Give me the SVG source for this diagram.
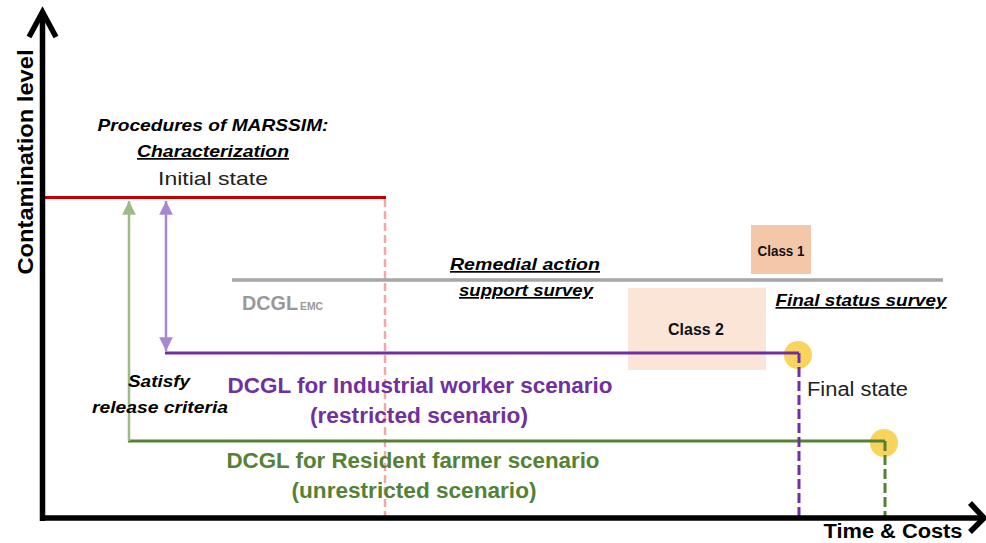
<svg xmlns="http://www.w3.org/2000/svg" width="986" height="543" viewBox="0 0 986 543">
<style>
text{font-family:"Liberation Sans",Arial,sans-serif}
.bi{font-weight:bold;font-style:italic;fill:#000}
.u{text-decoration:underline}
.b{font-weight:bold}
.axis{stroke:#000;stroke-width:5.5;fill:none}
.dash{stroke-width:3;stroke-dasharray:10 4;fill:none}
.dot{fill:#F9D45C}
</style>
<defs>
<marker id="gh" viewBox="0 0 10 10" refX="10" refY="5" markerWidth="5.5" markerHeight="5.5" orient="auto-start-reverse" markerUnits="strokeWidth"><path d="M0,0 L10,5 L0,10 Z" fill="#9DBB86"/></marker>
<marker id="ph" viewBox="0 0 10 10" refX="10" refY="5" markerWidth="5.5" markerHeight="5.5" orient="auto-start-reverse" markerUnits="strokeWidth"><path d="M0,0 L10,5 L0,10 Z" fill="#A886D0"/></marker>
</defs>
<rect width="986" height="543" fill="#fff"/>

<g id="boxes">
<rect id="class2-box" x="628" y="288" width="138" height="82" fill="#FBE5D6"/>
<rect id="class1-box" x="751" y="225" width="60" height="49" fill="#F4C7A8"/>
</g>

<g id="final-state-purple"><circle class="dot" cx="798" cy="355" r="14"/></g>
<g id="final-state-green"><circle class="dot" cx="884" cy="443" r="14"/></g>

<g id="connectors">
<line x1="385" y1="199" x2="385" y2="516" stroke="#F4A7A7" stroke-width="2.5" stroke-dasharray="8 4"/>
<line x1="42" y1="197.5" x2="386" y2="197.5" stroke="#C00000" stroke-width="3"/>
<line x1="232" y1="280" x2="943" y2="280" stroke="#A6A6A6" stroke-width="3.5"/>
<line x1="165" y1="353" x2="799" y2="353" stroke="#7030A0" stroke-width="3"/>
<line x1="128" y1="441" x2="885" y2="441" stroke="#548235" stroke-width="3"/>
<line x1="799" y1="353" x2="799" y2="516" stroke="#7030A0" class="dash"/>
<line x1="885" y1="441" x2="885" y2="516" stroke="#548235" class="dash"/>
<line x1="129" y1="441" x2="129" y2="201" stroke="#9DBB86" stroke-width="2.5" marker-end="url(#gh)"/>
<line x1="166" y1="351" x2="166" y2="201" stroke="#A886D0" stroke-width="2.5" marker-start="url(#ph)" marker-end="url(#ph)"/>
</g>

<g id="axes">
<line class="axis" x1="42.5" y1="521" x2="42.5" y2="14"/>
<polyline class="axis" points="29,37 42.5,12 56,37" stroke-linejoin="miter"/>
<line class="axis" x1="40" y1="518" x2="981" y2="518"/>
<polyline class="axis" points="970,503 984,518 970,532" stroke-linejoin="miter"/>
</g>

<g id="labels">
<text x="33" y="162" transform="rotate(-90 33 162)" text-anchor="middle" class="b" font-size="22" textLength="225" lengthAdjust="spacingAndGlyphs">Contamination level</text>
<text x="893" y="538" text-anchor="middle" class="b" font-size="20" textLength="139" lengthAdjust="spacingAndGlyphs">Time &amp; Costs</text>
</g>

<g id="characterization">
<text x="213" y="131" text-anchor="middle" class="bi" font-size="17" textLength="231" lengthAdjust="spacingAndGlyphs">Procedures of MARSSIM:</text>
<text x="213" y="157" text-anchor="middle" class="bi u" font-size="17" textLength="152" lengthAdjust="spacingAndGlyphs">Characterization</text>
<text x="213" y="185" text-anchor="middle" font-size="19" fill="#222" textLength="110" lengthAdjust="spacingAndGlyphs">Initial state</text>
</g>

<g id="remedial">
<text x="525" y="270" text-anchor="middle" class="bi u" font-size="17" textLength="150" lengthAdjust="spacingAndGlyphs">Remedial action</text>
<text x="526" y="296" text-anchor="middle" class="bi u" font-size="17" textLength="134" lengthAdjust="spacingAndGlyphs">support survey</text>
</g>

<g id="dcgl-emc">
<text x="242" y="310" class="b" font-size="21" fill="#999"><tspan textLength="56" lengthAdjust="spacingAndGlyphs">DCGL</tspan><tspan x="300" font-size="10.5" textLength="23" lengthAdjust="spacingAndGlyphs">EMC</tspan></text>
</g>

<g id="class1"><text x="781" y="256" text-anchor="middle" class="b" font-size="14" fill="#111" textLength="47" lengthAdjust="spacingAndGlyphs">Class 1</text></g>
<g id="class2"><text x="696" y="335" text-anchor="middle" class="b" font-size="17" fill="#111" textLength="56" lengthAdjust="spacingAndGlyphs">Class 2</text></g>

<g id="final-status">
<text x="861" y="306" text-anchor="middle" class="bi u" font-size="17" textLength="171" lengthAdjust="spacingAndGlyphs">Final status survey</text>
<text x="807" y="396" font-size="19.5" fill="#222" textLength="101" lengthAdjust="spacingAndGlyphs">Final state</text>
</g>

<g id="satisfy">
<text x="159" y="387" text-anchor="middle" class="bi" font-size="16" textLength="62" lengthAdjust="spacingAndGlyphs">Satisfy</text>
<text x="160" y="413" text-anchor="middle" class="bi" font-size="16" textLength="136" lengthAdjust="spacingAndGlyphs">release criteria</text>
</g>

<g id="industrial">
<text x="420" y="393" text-anchor="middle" class="b" font-size="22" fill="#7030A0" textLength="385" lengthAdjust="spacingAndGlyphs">DCGL for Industrial worker scenario</text>
<text x="419" y="423" text-anchor="middle" class="b" font-size="22" fill="#7030A0" textLength="218" lengthAdjust="spacingAndGlyphs">(restricted scenario)</text>
</g>

<g id="resident">
<text x="413" y="468" text-anchor="middle" class="b" font-size="22" fill="#548235" textLength="373" lengthAdjust="spacingAndGlyphs">DCGL for Resident farmer scenario</text>
<text x="414" y="498" text-anchor="middle" class="b" font-size="22" fill="#548235" textLength="245" lengthAdjust="spacingAndGlyphs">(unrestricted scenario)</text>
</g>
</svg>
